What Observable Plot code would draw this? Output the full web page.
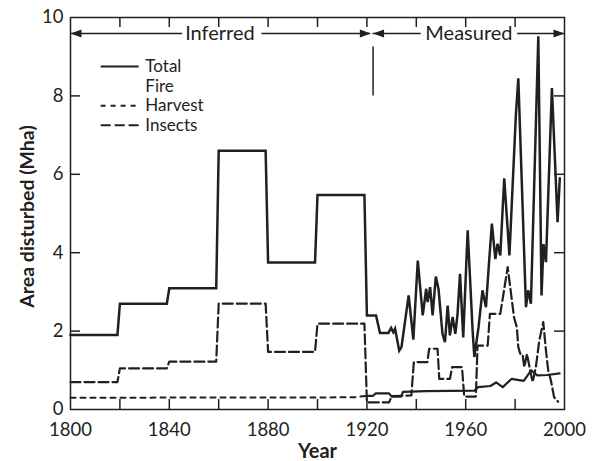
<!DOCTYPE html>
<html>
<head>
<meta charset="utf-8">
<script src="https://cdn.jsdelivr.net/npm/d3@7"></script>
<script src="https://cdn.jsdelivr.net/npm/@observablehq/plot@0.6"></script>
<style>
  html, body { margin: 0; padding: 0; background: #fff; }
  #chart svg { display: block; }
</style>
</head>
<body>
<div id="chart"></div>
<script>
// ---------- data ----------
const xTicks = [1800, 1840, 1880, 1920, 1960, 2000];
const xMinorTicks = [1820, 1840, 1860, 1880, 1900, 1920, 1940, 1960, 1980];
const yTicks = [0, 2, 4, 6, 8, 10];
const yInnerTicks = [2, 4, 6, 8];

// [year, Mha]
const totalSeries = [
  [1800,1.9],[1819,1.9],[1820,2.7],[1839,2.7],[1840,3.09],[1859,3.09],[1860,6.6],[1879,6.6],
  [1880,3.75],[1899,3.75],[1900,5.47],[1919,5.47],[1920,2.4],[1923.7,2.4],[1925.3,1.95],[1928.7,1.95],
  [1929.8,2.08],[1930.7,1.97],[1931.4,2.06],[1933.1,1.5],[1934,1.59],[1936.9,2.91],[1938.8,1.78],
  [1940.6,3.8],[1942.6,2.4],[1944,3.08],[1944.6,2.74],[1945.6,3.12],[1946.6,2.4],[1947.9,3.39],
  [1949,3.07],[1950.6,1.93],[1951.6,1.72],[1952.7,2.65],[1953.6,1.89],[1954.7,2.36],[1955.8,1.93],
  [1956.7,2.44],[1957.7,3.46],[1959,1.84],[1960.8,4.57],[1962.8,2.01],[1963.5,1.34],[1965.2,2.1],
  [1966.8,3.04],[1968.2,2.61],[1969.5,3.8],[1970.6,4.74],[1972,3.84],[1972.9,4.23],[1974,3.93],
  [1975.6,5.9],[1977.7,3.93],[1980.3,7.5],[1981.3,8.45],[1984.4,2.61],[1985.3,3.04],[1986.4,2.7],
  [1989.4,9.52],[1990.7,2.91],[1991.5,4.22],[1992.5,3.76],[1994.9,8.2],[1997.2,4.78],[1998.1,5.9]
];
const insectsSeries = [
  [1800,0.7],[1819,0.7],[1820,1.05],[1839,1.05],[1840,1.22],[1859,1.22],[1860,2.7],[1879,2.7],
  [1880,1.47],[1899,1.47],[1900,2.19],[1919,2.19],[1920,0.18],[1929,0.18],[1930,0.34],[1938,0.36],
  [1939,1.21],[1944.5,1.21],[1945.2,1.55],[1948.6,1.55],[1949.3,0.78],[1953.6,0.78],[1954.5,1.08],
  [1958.5,1.08],[1959.4,0.33],[1964.1,0.33],[1964.8,1.63],[1968.9,1.63],[1969.8,2.44],[1974,2.44],
  [1977,3.63],[1979.6,2.34],[1980.7,2.1],[1981.3,1.59],[1982.1,1.42],[1983,1.42],[1983.7,1.08],
  [1984.8,1.42],[1986.1,1.0],[1987.1,0.7],[1988.4,1.08],[1989.8,1.76],[1991.4,2.23],[1992.5,1.5],
  [1993.4,1.0],[1994.5,0.74],[1995.8,0.31],[1997.4,0.2]
];
const harvestInferred = [[1800,0.3],[1915,0.31],[1920,0.35]];
const harvestMeasured = [
  [1920,0.35],[1922.5,0.35],[1923.5,0.41],[1929,0.41],[1930,0.33],[1933.8,0.33],[1934.6,0.45],
  [1944,0.47],[1963.5,0.48],[1965,0.57],[1970,0.6],[1972.3,0.69],[1975,0.57],[1978.5,0.78],
  [1983.5,0.73],[1986.5,1.0],[1989,0.87],[1993,0.88],[1998,0.92]
];

// annotation / legend content
const periodLabels = [
  {label: "Inferred", x: 1860.5, y: 9.59},
  {label: "Measured", x: 1961.3, y: 9.59}
];
const periodSegments = [
  {x1: 1800, x2: 1845.4, y: 9.59},
  {x1: 1877.5, x2: 1921.5, y: 9.59},
  {x1: 1922.5, x2: 1942, y: 9.59},
  {x1: 1981, x2: 2000, y: 9.59}
];
const headsLeft = [{x: 1800, y: 9.59}, {x: 1922.5, y: 9.59}];
const headsRight = [{x: 1921.6, y: 9.59}, {x: 2000, y: 9.59}];
const divider = [{x: 1922.5, y1: 8.0, y2: 9.25}];

const legendLabels = ["Total", "Fire", "Harvest", "Insects"];
const legendY = [8.75, 8.25, 7.75, 7.25];
const legendX1 = 1812.4, legendX2 = 1827.8, legendTextX = 1830.3;

// ---------- chart ----------
const W = 593, H = 461;
const mL = 70, mR = 29, mT = 17, mB = 52;
const plotW = W - mL - mR, plotH = H - mT - mB;
const ink = "#231f20";
const font = "Lato, 'Open Sans', sans-serif";

const arrowRight = {draw(ctx) { ctx.moveTo(0, 0); ctx.lineTo(-11, -4); ctx.lineTo(-11, 4); ctx.closePath(); }};
const arrowLeft  = {draw(ctx) { ctx.moveTo(0, 0); ctx.lineTo(11, -4); ctx.lineTo(11, 4); ctx.closePath(); }};

const X = d => d[0], Y = d => d[1];

const chart = Plot.plot({
  width: W, height: H,
  marginLeft: mL, marginRight: mR, marginTop: mT, marginBottom: mB,
  style: {fontFamily: font, fontSize: "19px", color: ink, background: "#fff"},
  x: {domain: [1800, 2000]},
  y: {domain: [0, 10]},
  marks: [
    // inward ticks on all four sides
    Plot.ruleX(xMinorTicks, {x: d => d, insetTop: plotH - 10, stroke: ink, strokeWidth: 1.5}),
    Plot.ruleX(xMinorTicks, {x: d => d, insetBottom: plotH - 10, stroke: ink, strokeWidth: 1.5}),
    Plot.ruleY(yInnerTicks, {y: d => d, insetRight: plotW - 10, stroke: ink, strokeWidth: 1.5}),
    Plot.ruleY(yInnerTicks, {y: d => d, insetLeft: plotW - 10, stroke: ink, strokeWidth: 1.5}),
    Plot.axisX({ticks: xTicks, tickSize: 0, tickPadding: 13, tickFormat: d => String(d), label: null, fontSize: 18.5}),
    Plot.axisY({ticks: yTicks, tickSize: 0, tickPadding: 7, tickFormat: d => String(d), label: null, fontSize: 18.5}),

    // series
    Plot.line(harvestInferred, {x: X, y: Y, stroke: ink, strokeWidth: 2, strokeDasharray: "5,5"}),
    Plot.line(insectsSeries, {x: X, y: Y, stroke: ink, strokeWidth: 2.2, strokeDasharray: "10,4"}),
    Plot.line(harvestMeasured, {x: X, y: Y, stroke: ink, strokeWidth: 2.2}),
    Plot.line(totalSeries, {x: X, y: Y, stroke: ink, strokeWidth: 2.5, strokeLinejoin: "miter", strokeMiterlimit: 4}),

    // period annotations
    Plot.ruleY(periodSegments, {y: "y", x1: "x1", x2: "x2", stroke: ink, strokeWidth: 1.5}),
    Plot.dot(headsLeft, {x: "x", y: "y", symbol: arrowLeft, fill: ink, stroke: null}),
    Plot.dot(headsRight, {x: "x", y: "y", symbol: arrowRight, fill: ink, stroke: null}),
    Plot.text(periodLabels, {x: "x", y: "y", text: "label", fill: ink, fontSize: 20}),
    Plot.ruleX(divider, {x: "x", y1: "y1", y2: "y2", stroke: ink, strokeWidth: 1.5}),

    // legend
    Plot.ruleY([legendY[0]], {y: d => d, x1: legendX1, x2: legendX2, stroke: ink, strokeWidth: 2}),
    Plot.ruleY([legendY[2]], {y: d => d, x1: legendX1, x2: legendX2, stroke: ink, strokeWidth: 2, strokeDasharray: "5,5"}),
    Plot.ruleY([legendY[3]], {y: d => d, x1: legendX1, x2: legendX2, stroke: ink, strokeWidth: 2, strokeDasharray: "10,4"}),
    Plot.text(legendLabels, {x: legendTextX, y: (d, i) => legendY[i], text: d => d, textAnchor: "start", fill: ink, fontSize: 17}),

    // axis titles
    Plot.text(["Year"], {frameAnchor: "bottom", dy: 48, lineAnchor: "bottom", text: d => d, fontWeight: "bold", fontSize: 20, fill: ink}),
    Plot.text(["Area disturbed (Mha)"], {frameAnchor: "left", dx: -43, dy: 3, rotate: -90, textAnchor: "middle", lineAnchor: "middle", text: d => d, fontWeight: "bold", fontSize: 19.5, fill: ink}),

    Plot.frame({stroke: ink, strokeWidth: 1.5})
  ]
});
document.getElementById("chart").appendChild(chart);
</script>
</body>
</html>
